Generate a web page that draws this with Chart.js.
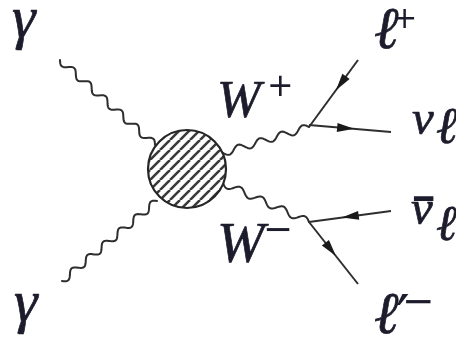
<!DOCTYPE html>
<html>
<head>
<meta charset="utf-8">
<script src="https://cdn.jsdelivr.net/npm/chart.js@4.4.1/dist/chart.umd.min.js"></script>
<style>
  html, body { margin: 0; padding: 0; background: #ffffff; }
  canvas { display: block; }
</style>
</head>
<body>
<canvas id="diagram" width="456" height="338"></canvas>
<script>
// Incoming photons: outer end, then the point where each meets the blob
const photonTop = [{x: 60, y: 60}, {x: 155, y: 145}];
const photonBottom = [{x: 62, y: 281}, {x: 157, y: 201}];

// W bosons: from the blob to their decay vertices
const wPlus = [{x: 223, y: 153}, {x: 309, y: 127}];
const wMinus = [{x: 223, y: 183}, {x: 309, y: 222}];

// Leptons, each listed from the decay vertex outward
const leptonPlus = [{x: 309, y: 127}, {x: 358, y: 60}];
const neutrino = [{x: 309, y: 125}, {x: 391, y: 132}];
const antiNeutrino = [{x: 309, y: 222}, {x: 391, y: 211}];
const leptonMinus = [{x: 309, y: 222}, {x: 358, y: 284}];

// Fermion-flow direction along each lepton line: +1 outward, -1 toward the vertex
const leptonFlow = [-1, 1, -1, 1];

// The effective two-photon vertex
const blobCentre = [{x: 187, y: 169}];

// Particle names: glyph, and the box its ink fills (top-left corner plus height or width)
const labelText = ['γ', 'γ', 'W', '+', 'W', '−', 'ℓ', '+', 'ν', 'ℓ', '¯', 'ν', 'ℓ', 'ℓ', '′', '−'];
const labelBox = [
  {x: 13, y: 10, h: 40}, {x: 15, y: 294, h: 40},
  {x: 220, y: 82, h: 35}, {x: 270, y: 75, h: 20},
  {x: 220, y: 224, h: 38}, {x: 266, y: 228, w: 23},
  {x: 375, y: 8, h: 40}, {x: 395, y: 8, h: 19},
  {x: 412, y: 112, h: 23}, {x: 437, y: 108, h: 35},
  {x: 413, y: 196, w: 20}, {x: 411, y: 202, h: 23}, {x: 437, y: 206, h: 34},
  {x: 375, y: 293, h: 40}, {x: 397, y: 294, h: 11}, {x: 406, y: 300, w: 25}
];
// Letters are italic serif; signs and the prime are upright
const labelItalic = [true, true, true, false, true, false, true, false, true, true, false, true, true, true, false, false];

const INK = '#1c1c2c';
const LINE = '#2e2e2e';
const LETTER_FACE = '"Liberation Serif", "Times New Roman", "DejaVu Serif", serif';
const SIGN_FACE = '"DejaVu Sans", "Liberation Sans", sans-serif';

// Diagonal hatching for the blob
function hatchPattern() {
  const size = 10;
  const c = document.createElement('canvas');
  c.width = size; c.height = size;
  const g = c.getContext('2d');
  g.fillStyle = '#ffffff';
  g.fillRect(0, 0, size, size);
  g.strokeStyle = '#3a3a3a';
  g.lineWidth = 2.6;
  g.beginPath();
  for (let k = -1; k <= 1; k++) {
    g.moveTo(k * size, size);
    g.lineTo(k * size + size, 0);
  }
  g.stroke();
  return g.createPattern(c, 'repeat');
}

// Boson propagators are drawn as a sine wave between their two points
const wavyLines = {
  id: 'wavyLines',
  beforeDatasetsDraw(chart) {
    const ctx = chart.ctx;
    chart.data.datasets.forEach((ds, i) => {
      if (!ds.wavy) return;
      const pts = chart.getDatasetMeta(i).data;
      const a = pts[0], b = pts[1];
      const dx = b.x - a.x, dy = b.y - a.y;
      const len = Math.hypot(dx, dy);
      const ux = dx / len, uy = dy / len;
      const nx = -uy, ny = ux;
      const waves = Math.max(1, Math.round(len / ds.wavelength));
      const steps = Math.ceil(len);
      ctx.save();
      ctx.strokeStyle = LINE;
      ctx.lineWidth = 2;
      ctx.lineJoin = 'round';
      ctx.lineCap = 'round';
      ctx.beginPath();
      for (let s = 0; s <= steps; s++) {
        const t = s / steps;
        const off = ds.amplitude * Math.sin(2 * Math.PI * waves * t);
        const px = a.x + dx * t + nx * off;
        const py = a.y + dy * t + ny * off;
        if (s === 0) ctx.moveTo(px, py); else ctx.lineTo(px, py);
      }
      ctx.stroke();
      ctx.restore();
    });
  }
};

// Arrowheads at the middle of each lepton line
const fermionArrows = {
  id: 'fermionArrows',
  afterDatasetsDraw(chart) {
    const ctx = chart.ctx;
    chart.data.datasets.forEach((ds, i) => {
      if (!ds.flow) return;
      const pts = chart.getDatasetMeta(i).data;
      const a = pts[0], b = pts[1];
      const dx = b.x - a.x, dy = b.y - a.y;
      const len = Math.hypot(dx, dy);
      const ux = dx / len * ds.flow, uy = dy / len * ds.flow;
      const tipX = a.x + dx * ds.arrowAt, tipY = a.y + dy * ds.arrowAt;
      const L = 17, W = 4.5;
      const bx = tipX - ux * L, by = tipY - uy * L;
      ctx.save();
      ctx.fillStyle = '#1a1a1a';
      ctx.beginPath();
      ctx.moveTo(tipX, tipY);
      ctx.lineTo(bx - uy * W, by + ux * W);
      ctx.lineTo(bx + uy * W, by - ux * W);
      ctx.closePath();
      ctx.fill();
      ctx.restore();
    });
  }
};

// Particle names: each glyph is sized and placed so its ink fills its box
const particleLabels = {
  id: 'particleLabels',
  afterDraw(chart) {
    const ctx = chart.ctx;
    const xs = chart.scales.x, ys = chart.scales.y;
    ctx.save();
    ctx.fillStyle = INK;
    ctx.strokeStyle = INK;
    ctx.lineWidth = 0.7;
    ctx.lineJoin = 'round';
    ctx.textBaseline = 'alphabetic';
    ctx.textAlign = 'left';
    labelText.forEach((t, i) => {
      const style = labelItalic[i] ? 'italic 400 ' : 'normal 400 ';
      const face = labelItalic[i] ? LETTER_FACE : SIGN_FACE;
      const box = labelBox[i];
      ctx.font = style + '100px ' + face;
      const m = ctx.measureText(t);
      const inkH = m.actualBoundingBoxAscent + m.actualBoundingBoxDescent;
      const inkW = m.actualBoundingBoxLeft + m.actualBoundingBoxRight;
      let size = box.h ? 100 * box.h / inkH : 100 * box.w / inkW;
      if (!isFinite(size) || size <= 0) size = 30;
      ctx.font = style + size.toFixed(2) + 'px ' + face;
      const m2 = ctx.measureText(t);
      const px = xs.getPixelForValue(box.x) + m2.actualBoundingBoxLeft;
      const py = ys.getPixelForValue(box.y) + m2.actualBoundingBoxAscent;
      ctx.fillText(t, px, py);
      if (labelItalic[i]) ctx.strokeText(t, px, py);
    });
    ctx.restore();
  }
};

const bosonStyle = {showLine: false, pointRadius: 0, wavy: true, wavelength: 22, amplitude: 3.5};
const leptonStyle = {showLine: true, borderColor: LINE, borderWidth: 2, pointRadius: 0, fill: false};

function build() {
  new Chart(document.getElementById('diagram'), {
    type: 'scatter',
    data: {
      datasets: [
        {label: 'blob', data: blobCentre, pointRadius: 39, pointHoverRadius: 39,
         backgroundColor: hatchPattern(), borderColor: '#262626', borderWidth: 2.2},
        Object.assign({label: 'γ', data: photonTop}, bosonStyle),
        Object.assign({label: 'γ', data: photonBottom}, bosonStyle),
        Object.assign({label: 'W+', data: wPlus}, bosonStyle),
        Object.assign({label: 'W−', data: wMinus}, bosonStyle),
        Object.assign({label: 'ℓ+', data: leptonPlus, flow: leptonFlow[0], arrowAt: 0.55}, leptonStyle),
        Object.assign({label: 'νℓ', data: neutrino, flow: leptonFlow[1], arrowAt: 0.55}, leptonStyle),
        Object.assign({label: 'ν̄ℓ', data: antiNeutrino, flow: leptonFlow[2], arrowAt: 0.4}, leptonStyle),
        Object.assign({label: 'ℓ′−', data: leptonMinus, flow: leptonFlow[3], arrowAt: 0.55}, leptonStyle)
      ]
    },
    options: {
      responsive: false,
      animation: false,
      events: [],
      layout: {padding: 0, autoPadding: false},
      plugins: {legend: {display: false}, tooltip: {enabled: false}},
      scales: {
        x: {type: 'linear', min: 0, max: 456, display: false},
        y: {type: 'linear', min: 0, max: 338, reverse: true, display: false}
      }
    },
    plugins: [wavyLines, fermionArrows, particleLabels]
  });
}

if (document.fonts && document.fonts.load) {
  Promise.all([
    document.fonts.load('italic 50px ' + LETTER_FACE, 'γWℓν'),
    document.fonts.load('normal 34px ' + SIGN_FACE, '+−′¯')
  ]).then(build, build);
} else {
  build();
}
</script>
</body>
</html>
